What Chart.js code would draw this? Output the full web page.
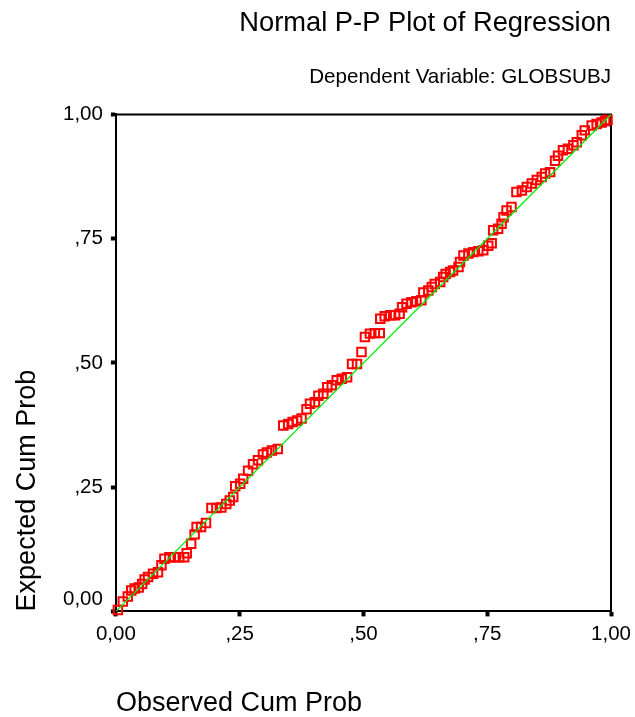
<!DOCTYPE html>
<html>
<head>
<meta charset="utf-8">
<script src="https://cdn.jsdelivr.net/npm/chart.js@4/dist/chart.umd.min.js"></script>
<style>
  html, body { margin: 0; padding: 0; background: #fff; }
  #wrap { width: 635px; height: 717px; }
</style>
</head>
<body>
<div id="wrap"><canvas id="pp"></canvas></div>
<script>
// observed vs expected cumulative probability
const obsCumProb = [
  0.004, 0.014, 0.024, 0.031, 0.038, 0.046, 0.053, 0.058, 0.065, 0.075,
  0.085, 0.092, 0.098, 0.108, 0.118, 0.128, 0.138, 0.143, 0.152, 0.159,
  0.163, 0.172, 0.182, 0.193, 0.203, 0.213, 0.223, 0.230, 0.237, 0.241,
  0.251, 0.257, 0.267, 0.277, 0.287, 0.297, 0.305, 0.315, 0.327, 0.338,
  0.348, 0.357, 0.366, 0.375, 0.385, 0.392, 0.402, 0.409, 0.419, 0.427,
  0.436, 0.446, 0.456, 0.467, 0.477, 0.487, 0.496, 0.503, 0.513, 0.523,
  0.533, 0.534, 0.543, 0.554, 0.564, 0.573, 0.578, 0.587, 0.597, 0.607,
  0.617, 0.621, 0.631, 0.638, 0.644, 0.655, 0.661, 0.666, 0.675, 0.681,
  0.692, 0.695, 0.702, 0.712, 0.722, 0.732, 0.742, 0.752, 0.759, 0.762,
  0.772, 0.779, 0.783, 0.789, 0.799, 0.809, 0.820, 0.830, 0.840, 0.850,
  0.860, 0.867, 0.877, 0.887, 0.893, 0.903, 0.913, 0.924, 0.931, 0.941,
  0.947, 0.961, 0.971, 0.981, 0.988, 0.993
];
const expCumProb = [
  0.003, 0.020, 0.030, 0.042, 0.046, 0.048, 0.055, 0.064, 0.069, 0.076,
  0.079, 0.093, 0.106, 0.109, 0.109, 0.109, 0.109, 0.117, 0.136, 0.155,
  0.170, 0.170, 0.178, 0.208, 0.208, 0.209, 0.216, 0.223, 0.230, 0.252,
  0.257, 0.267, 0.283, 0.296, 0.304, 0.316, 0.320, 0.324, 0.327, 0.374,
  0.377, 0.381, 0.384, 0.388, 0.407, 0.418, 0.421, 0.434, 0.438, 0.451,
  0.455, 0.465, 0.468, 0.471, 0.498, 0.498, 0.522, 0.552, 0.559, 0.560,
  0.560, 0.589, 0.594, 0.596, 0.596, 0.599, 0.612, 0.619, 0.622, 0.624,
  0.626, 0.642, 0.646, 0.653, 0.659, 0.663, 0.673, 0.679, 0.683, 0.686,
  0.693, 0.703, 0.716, 0.720, 0.723, 0.725, 0.727, 0.736, 0.741, 0.767,
  0.770, 0.780, 0.793, 0.807, 0.814, 0.844, 0.847, 0.854, 0.861, 0.868,
  0.874, 0.881, 0.884, 0.907, 0.917, 0.928, 0.931, 0.938, 0.944, 0.958,
  0.968, 0.978, 0.981, 0.984, 0.987, 0.989
];
const refLine = [0, 1];
const tickValues = [0, 0.25, 0.5, 0.75, 1];
const tickLabels = ['0,00', ',25', ',50', ',75', '1,00'];

const FONT = "'Liberation Sans', Arial, sans-serif";
Chart.defaults.color = '#000';
Chart.defaults.font.family = FONT;

// top and right sides of the box
const frame = {
  id: 'frame',
  beforeDatasetsDraw(chart) {
    const {ctx, chartArea: a} = chart;
    ctx.save();
    ctx.strokeStyle = '#000';
    ctx.lineWidth = 2;
    ctx.beginPath();
    ctx.moveTo(a.left, a.top);
    ctx.lineTo(a.right, a.top);
    ctx.lineTo(a.right, a.bottom);
    ctx.stroke();
    ctx.restore();
  }
};

function axis(titleText, titlePad, tickPad, liftZero) {
  return {
    type: 'linear',
    min: 0,
    max: 1,
    afterBuildTicks: s => { s.ticks = tickValues.map(v => ({value: v})); },
    // let the last label hang into the right margin
    afterFit: s => { if (s.isHorizontal()) s.paddingRight = 0; },
    ticks: {
      padding: tickPad,
      font: {size: 20.5},
      callback: v => {
        const lbl = tickLabels[tickValues.indexOf(v)];
        // y axis: the 0,00 label sits a little above its tick
        return (liftZero && v === 0) ? [lbl, ''] : lbl;
      }
    },
    grid: {
      drawOnChartArea: false,
      drawTicks: true,
      tickLength: 5,
      tickWidth: 4,
      tickColor: '#000'
    },
    border: {display: true, color: '#000', width: 2},
    title: {
      display: true,
      text: titleText,
      align: 'start',
      font: {size: 27, lineHeight: 1},
      padding: titlePad
    }
  };
}

new Chart(document.getElementById('pp'), {
  type: 'scatter',
  data: {
    datasets: [{
      data: obsCumProb.map((x, i) => ({x: x, y: expCumProb[i]})),
      pointStyle: 'rect',
      pointRadius: 6,
      pointBorderWidth: 2,
      pointBorderColor: '#ff0000',
      pointBackgroundColor: 'rgba(0,0,0,0)',
      clip: false,
      order: 2
    }, {
      type: 'line',
      data: refLine.map(v => ({x: v, y: v})),
      borderColor: '#00ee00',
      borderWidth: 1.3,
      pointRadius: 0,
      order: 1
    }]
  },
  options: {
    responsive: true,
    maintainAspectRatio: false,
    animation: false,
    layout: {padding: {left: 0, right: 24, top: 0, bottom: 0}},
    plugins: {
      legend: {display: false},
      tooltip: {enabled: false},
      title: {
        display: true,
        text: 'Normal P-P Plot of Regression',
        align: 'end',
        font: {size: 27.3, weight: 'normal'},
        padding: {top: 7, bottom: 14}
      },
      subtitle: {
        display: true,
        text: 'Dependent Variable: GLOBSUBJ',
        align: 'end',
        font: {size: 20.6},
        padding: {top: 11, bottom: 25}
      }
    },
    scales: {
      x: axis('Observed Cum Prob', {top: 37, bottom: 0}, 6, false),
      y: axis('Expected Cum Prob', {top: 14, bottom: 14}, 8, true)
    }
  },
  plugins: [frame]
});
</script>
</body>
</html>
